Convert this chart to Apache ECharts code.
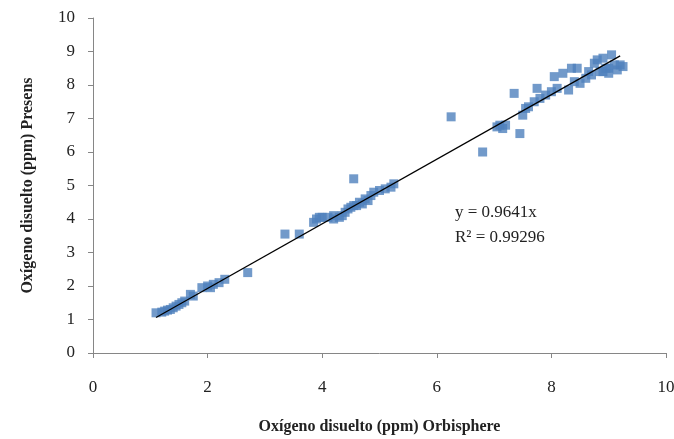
<!DOCTYPE html>
<html><head><meta charset="utf-8">
<script src="https://cdn.jsdelivr.net/npm/echarts@6/dist/echarts.min.js"></script>
<style>html,body{margin:0;padding:0;background:#fff}#c{width:674px;height:439px}</style>
</head><body><div id="c"></div>
<script>
const xValues = [1.1,1.2,1.25,1.3,1.35,1.4,1.45,1.5,1.55,1.6,1.7,1.75,1.9,2.0,2.05,2.1,2.2,2.3,2.7,
  3.35,3.6,3.85,3.9,3.95,4.0,4.1,4.2,4.2,4.3,4.35,4.4,4.45,4.5,4.55,4.55,4.6,4.65,4.7,4.75,4.8,4.85,4.9,5.0,5.1,5.2,5.25,
  6.25,6.8,7.05,7.1,7.15,7.2,7.35,7.45,7.5,7.55,7.6,7.7,7.75,7.8,7.9,8.0,8.05,8.1,8.2,8.3,8.35,8.4,8.45,8.5,8.6,8.65,8.7,8.75,8.8,8.85,8.9,8.9,8.95,9.0,9.0,9.05,9.1,9.15,9.2,9.25];
const yValues = [1.2,1.22,1.25,1.28,1.3,1.35,1.4,1.45,1.5,1.55,1.75,1.7,1.95,2.0,1.95,2.05,2.1,2.2,2.4,
  3.55,3.55,3.9,4.0,4.05,4.05,4.05,4.0,4.1,4.05,4.1,4.2,4.3,4.35,5.2,4.4,4.4,4.5,4.45,4.6,4.55,4.7,4.8,4.85,4.9,4.95,5.05,
  7.05,6.0,6.75,6.8,6.7,6.8,7.75,6.55,7.1,7.3,7.35,7.5,7.9,7.6,7.7,7.8,8.25,7.9,8.35,7.85,8.5,8.1,8.5,8.05,8.2,8.4,8.3,8.65,8.75,8.4,8.8,8.4,8.5,8.35,8.5,8.9,8.6,8.45,8.6,8.55];
const slope = 0.9641;
const trendX = [1.1, 9.2];
const xTicks = [0,2,4,6,8,10];
const yTicks = [0,1,2,3,4,5,6,7,8,9,10];
const equationText = 'y = 0.9641x\nR² = 0.99296';

const pts = xValues.map((x,i)=>[x,yValues[i]]);
const trend = trendX.map(x=>[x, slope*x]);
const chart = echarts.init(document.getElementById('c'));
const serif = '"Liberation Serif","DejaVu Serif",serif';
const axisLine = {show:true, lineStyle:{color:'#868686', width:1}};
chart.setOption({
  animation:false,
  grid:{left:93,right:8,top:18,bottom:86,containLabel:false,outerBoundsMode:'none'},
  xAxis:{type:'value',min:0,max:10,interval:2,
    name:'Oxígeno disuelto (ppm) Orbisphere',nameLocation:'middle',nameGap:66,
    nameTextStyle:{fontFamily:serif,fontWeight:'bold',fontSize:16,color:'#222'},
    axisLine:axisLine,axisTick:{show:true,length:5,lineStyle:{color:'#868686'}},
    splitLine:{show:false},
    axisLabel:{fontFamily:serif,fontSize:17,color:'#222',margin:26,showMaxLabel:true,hideOverlap:false}},
  yAxis:{type:'value',min:0,max:10,interval:1,
    name:'Oxígeno disuelto (ppm) Presens',nameLocation:'middle',nameGap:57,
    nameTextStyle:{fontFamily:serif,fontWeight:'bold',fontSize:16,color:'#222'},
    axisLine:axisLine,axisTick:{show:true,length:5,lineStyle:{color:'#868686'}},
    splitLine:{show:false},
    axisLabel:{fontFamily:serif,fontSize:17,color:'#222',margin:18}},
  series:[
    {type:'scatter',data:pts,symbol:'rect',symbolSize:9,itemStyle:{color:'#4F81BD'},z:2},
    {type:'line',data:trend,symbol:'none',lineStyle:{color:'#000',width:1.3},z:3,silent:true}
  ],
  graphic:[{type:'text',left:455,top:200,style:{text:equationText,font:'17px '+serif,fill:'#222',lineHeight:25,textAlign:'left'}}]
});
</script></body></html>
